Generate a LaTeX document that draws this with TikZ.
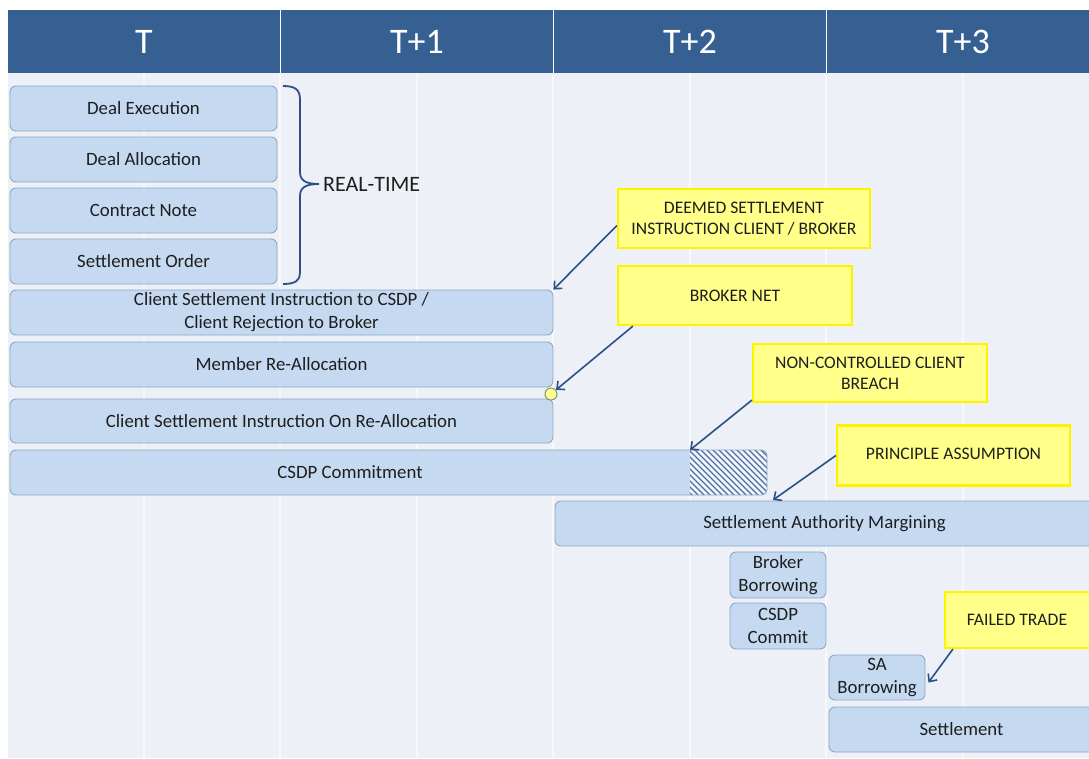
\documentclass[tikz,border=0pt]{standalone}
\usepackage{fontspec}
\setmainfont{Carlito}
\usetikzlibrary{arrows.meta,calc}
\definecolor{hdr}{HTML}{376092}
\definecolor{bg}{HTML}{EDF1F7}
\definecolor{boxfill}{HTML}{C5D9F1}
\definecolor{boxedge}{HTML}{8EA7C6}
\definecolor{txt}{HTML}{1E1E1E}
\definecolor{callfill}{HTML}{FFFF8A}
\definecolor{calledge}{HTML}{FFF200}
\definecolor{arrcol}{HTML}{2B4F86}
\definecolor{bracecol}{HTML}{2E5087}
\definecolor{hatchcol}{HTML}{4A6FA5}
\definecolor{hatchbg}{HTML}{F2F5FA}
\definecolor{dotfill}{HTML}{FFFF99}
\definecolor{dotedge}{HTML}{7F9A60}
\begin{document}
\begin{tikzpicture}[x=1pt,y=-1pt,
  box/.style={draw=boxedge, fill=boxfill, rounded corners=6pt, line width=0.9pt, text=txt,
    font=\fontsize{18.8}{23}\selectfont, align=center, inner sep=0pt},
  boxtext/.style={text=txt, font=\fontsize{18.8}{23}\selectfont, align=center, inner sep=0pt},
  callout/.style={draw=calledge, fill=callfill, line width=2.2pt, text=txt,
    font=\fontsize{17.6}{21}\selectfont, align=center, inner sep=0pt},
  hdrtext/.style={text=white, font=\fontsize{36}{40}\selectfont, inner sep=0pt},
  grid/.style={draw=white, line width=1.5pt, opacity=0.55},
  arr/.style={draw=arrcol, line width=1.6pt, -{Straight Barb[length=6pt,width=11pt]}},
  hatch/.style={draw=hatchcol, line width=1.2pt}
]
\clip (0,0) rectangle (1089,758);
\fill[white] (0,0) rectangle (1089,758);
\fill[bg] (8,73) rectangle (1089,758);
% grid lines
\foreach \gx in {144,280,417,553,690,826,963}
  \draw[grid] (\gx,73) -- (\gx,758);
% header
\fill[hdr] (8,10) rectangle (1089,73);
\foreach \gx in {280.5,553.5,826.5}
  \draw[white, line width=1.2pt] (\gx,10) -- (\gx,73);
\node[hdrtext] (hT)  at (144,42) {T};
\node[hdrtext] (hT1) at (417,42) {T+1};
\node[hdrtext] (hT2) at (690,42) {T+2};
\node[hdrtext] (hT3) at (963,42) {T+3};
% left stack
\node[box, minimum width=267pt, minimum height=45pt] (de) at (143.5,108.5) {Deal Execution};
\node[box, minimum width=267pt, minimum height=45pt] (da) at (143.5,159.5) {Deal Allocation};
\node[box, minimum width=267pt, minimum height=45pt] (cn) at (143.5,210.5) {Contract Note};
\node[box, minimum width=267pt, minimum height=45pt] (so) at (143.5,261.5) {Settlement Order};
% brace
\draw[bracecol, line width=1.8pt] (283,86) .. controls (296,86) and (300,90) .. (300,100) -- (300,172)
  .. controls (300,180) and (305,184) .. (319,184)
  .. controls (305,184) and (300,188) .. (300,196) -- (300,273)
  .. controls (300,280) and (296,284) .. (283,284);
\node[text=txt, font=\fontsize{22}{24}\selectfont, inner sep=0pt, anchor=west] (rt) at (323,184) {REAL-TIME};
% long rows
\node[box, minimum width=543pt, minimum height=45pt] (csi) at (281.5,312.5) {Client Settlement Instruction to CSDP /\\Client Rejection to Broker};
\node[box, minimum width=543pt, minimum height=45pt] (mra) at (281.5,364.5) {Member Re-Allocation};
\node[box, minimum width=543pt, minimum height=44pt] (csr) at (281.5,421) {Client Settlement Instruction On Re-Allocation};
% CSDP commitment with hatched part
\begin{scope}
  \clip[rounded corners=6pt] (10,450) rectangle (767,495);
  \fill[hatchbg] (690,445) rectangle (772,500);
  \fill[boxfill] (5,445) rectangle (690,500);
  \clip (690,445) rectangle (772,500);
  \foreach \i in {-52,-46,...,82}
    \draw[hatch] (690+\i,447) -- (690+\i+50,497);
\end{scope}
\draw[boxedge, line width=0.9pt, rounded corners=6pt] (10,450) rectangle (767,495);
\node[boxtext] (csdp) at (350,472.5) {CSDP Commitment};
\coordinate (hx) at (690,450);
% T+2 onward
\node[box, minimum width=545pt, minimum height=45pt] (sam) at (827.5,523.5) {\hspace*{-6pt}Settlement Authority Margining};
\coordinate (samt) at (773,500);
\node[box, minimum width=96pt, minimum height=46pt] (bb) at (778,575) {Broker\\Borrowing};
\node[box, minimum width=96pt, minimum height=46pt] (cc) at (778,626) {CSDP\\Commit};
\node[box, minimum width=96pt, minimum height=45pt] (sab) at (877,677.5) {SA\\Borrowing};
\node[box, minimum width=271pt, minimum height=45pt] (set) at (964.5,729.5) {\hspace*{-6pt}Settlement};
% dot
\node[circle, draw=dotedge, fill=dotfill, minimum size=12pt, inner sep=0pt, line width=1pt] (dot) at (551,394) {};
% callouts
\node[callout, minimum width=252pt, minimum height=59pt] (dsi) at (744,218.5) {DEEMED SETTLEMENT\\INSTRUCTION CLIENT / BROKER};
\node[callout, minimum width=234pt, minimum height=59pt] (bn) at (735,295.5) {BROKER NET};
\node[callout, minimum width=234pt, minimum height=58pt] (ncb) at (870,373) {NON-CONTROLLED CLIENT\\BREACH};
\node[callout, minimum width=233pt, minimum height=60pt] (pa) at (953.5,455.5) {\raisebox{4pt}{PRINCIPLE ASSUMPTION}};
\node[callout, minimum width=150pt, minimum height=56pt] (ft) at (1020,620) {\hspace*{-6pt}FAILED TRADE};
% arrows
\draw[arr] ([yshift=-7pt]dsi.west) -- (csi.north east);
\draw[arr] ([xshift=16pt]bn.south west) -- (dot);
\draw[arr] ([yshift=3pt]ncb.south west) -- (hx);
\draw[arr] (pa.west) -- (samt);
\draw[arr] ([xshift=9pt]ft.south west) -- ([xshift=3pt,yshift=-5pt]sab.east);
\end{tikzpicture}
\end{document}
